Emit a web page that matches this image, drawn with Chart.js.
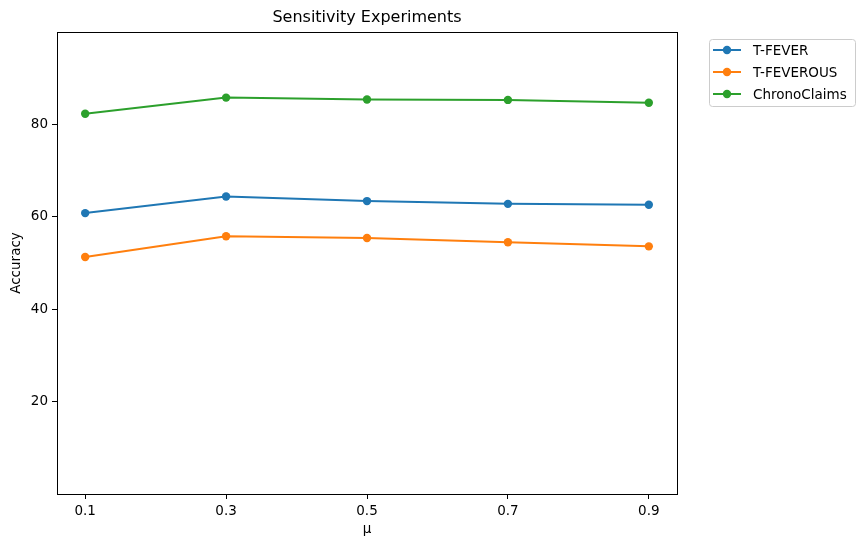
<!DOCTYPE html>
<html lang="en">
<head>
    <meta charset="UTF-8">
    <title>Sensitivity Experiments</title>
    <script src="https://cdn.jsdelivr.net/npm/chart.js"></script>
    <style>
        body {
            margin: 0;
            background: #ffffff;
        }

        .chart-box {
            width: 865px;
            height: 547px;
        }
    </style>
</head>
<body>
    <div class="chart-box">
        <canvas id="sensChart" width="865" height="547"></canvas>
    </div>

    <script>
        const muValues = [0.1, 0.3, 0.5, 0.7, 0.9];
        const yTicks = [20, 40, 60, 80];
        const tFever = [60.8, 64.4, 63.4, 62.8, 62.6];
        const tFeverous = [51.3, 55.8, 55.4, 54.5, 53.6];
        const chronoClaims = [82.3, 85.8, 85.4, 85.3, 84.7];

        const seriesNames = ['T-FEVER', 'T-FEVEROUS', 'ChronoClaims'];
        const seriesColors = ['#1f77b4', '#ff7f0e', '#2ca02c'];
        const seriesData = [tFever, tFeverous, chronoClaims];

        const FONT = "'DejaVu Sans', sans-serif";

        // frame, title and legend drawn on top
        const extrasPlugin = {
            id: 'extras',
            afterDraw(chart) {
                const ctx = chart.ctx;
                const a = chart.chartArea;
                ctx.save();
                ctx.strokeStyle = '#000';
                ctx.lineWidth = 1;
                ctx.strokeRect(Math.round(a.left) + 0.5, Math.round(a.top) + 0.5,
                    Math.round(a.right - a.left), Math.round(a.bottom - a.top));

                ctx.fillStyle = '#000';
                ctx.font = '16px ' + FONT;
                ctx.textAlign = 'center';
                ctx.textBaseline = 'middle';
                ctx.fillText('Sensitivity Experiments', (a.left + a.right) / 2, 18);

                // legend
                const lx = 709, ly = 39, lw = 146, lh = 67;
                ctx.beginPath();
                ctx.roundRect(lx + 0.5, ly + 0.5, lw, lh, 3);
                ctx.fillStyle = 'rgba(255,255,255,0.8)';
                ctx.fill();
                ctx.strokeStyle = '#cccccc';
                ctx.stroke();

                ctx.font = '13.5px ' + FONT;
                ctx.textAlign = 'left';
                seriesNames.forEach((name, i) => {
                    const y = ly + 11 + i * 22;
                    ctx.strokeStyle = seriesColors[i];
                    ctx.lineWidth = 2;
                    ctx.beginPath();
                    ctx.moveTo(713, y);
                    ctx.lineTo(741, y);
                    ctx.stroke();
                    ctx.fillStyle = seriesColors[i];
                    ctx.beginPath();
                    ctx.arc(727, y, 4.2, 0, Math.PI * 2);
                    ctx.fill();
                    ctx.fillStyle = '#000';
                    ctx.fillText(name, 753, y + 1);
                });
                ctx.restore();
            }
        };

        const ctx = document.getElementById('sensChart').getContext('2d');

        new Chart(ctx, {
            type: 'line',
            data: {
                datasets: seriesNames.map((name, i) => ({
                    label: name,
                    data: muValues.map((m, j) => ({ x: m, y: seriesData[i][j] })),
                    borderColor: seriesColors[i],
                    backgroundColor: seriesColors[i],
                    borderWidth: 2,
                    pointRadius: 4.2,
                    pointHoverRadius: 4.2,
                    pointBorderWidth: 0,
                    tension: 0
                }))
            },
            options: {
                responsive: false,
                animation: false,
                devicePixelRatio: 1,
                layout: {
                    padding: { top: 32, right: 188, left: 0, bottom: 0 }
                },
                plugins: {
                    legend: { display: false },
                    title: { display: false },
                    tooltip: { enabled: false }
                },
                scales: {
                    x: {
                        type: 'linear',
                        min: 0.06,
                        max: 0.94,
                        afterBuildTicks: scale => {
                            scale.ticks = muValues.map(v => ({ value: v }));
                        },
                        afterFit: scale => { scale.height = 53; },
                        border: { display: false },
                        grid: {
                            drawOnChartArea: false,
                            drawTicks: true,
                            tickLength: 5,
                            color: '#000'
                        },
                        ticks: {
                            color: '#000',
                            font: { family: FONT, size: 13.5 },
                            padding: 4,
                            maxRotation: 0,
                            callback: v => v.toFixed(1)
                        },
                        title: {
                            display: true,
                            text: 'μ',
                            color: '#000',
                            font: { family: FONT, size: 13.5 },
                            padding: { top: 9, bottom: 9 }
                        }
                    },
                    y: {
                        min: 0,
                        max: 100,
                        afterBuildTicks: scale => {
                            scale.ticks = yTicks.map(v => ({ value: v }));
                        },
                        afterFit: scale => { scale.width = 57; },
                        border: { display: false },
                        grid: {
                            drawOnChartArea: false,
                            drawTicks: true,
                            tickLength: 5,
                            color: '#000'
                        },
                        ticks: {
                            color: '#000',
                            font: { family: FONT, size: 13.5 },
                            padding: 4
                        },
                        title: {
                            display: true,
                            text: 'Accuracy',
                            color: '#000',
                            font: { family: FONT, size: 13.5 },
                            padding: { top: 8, bottom: 8 }
                        }
                    }
                }
            },
            plugins: [extrasPlugin]
        });
    </script>
</body>
</html>
